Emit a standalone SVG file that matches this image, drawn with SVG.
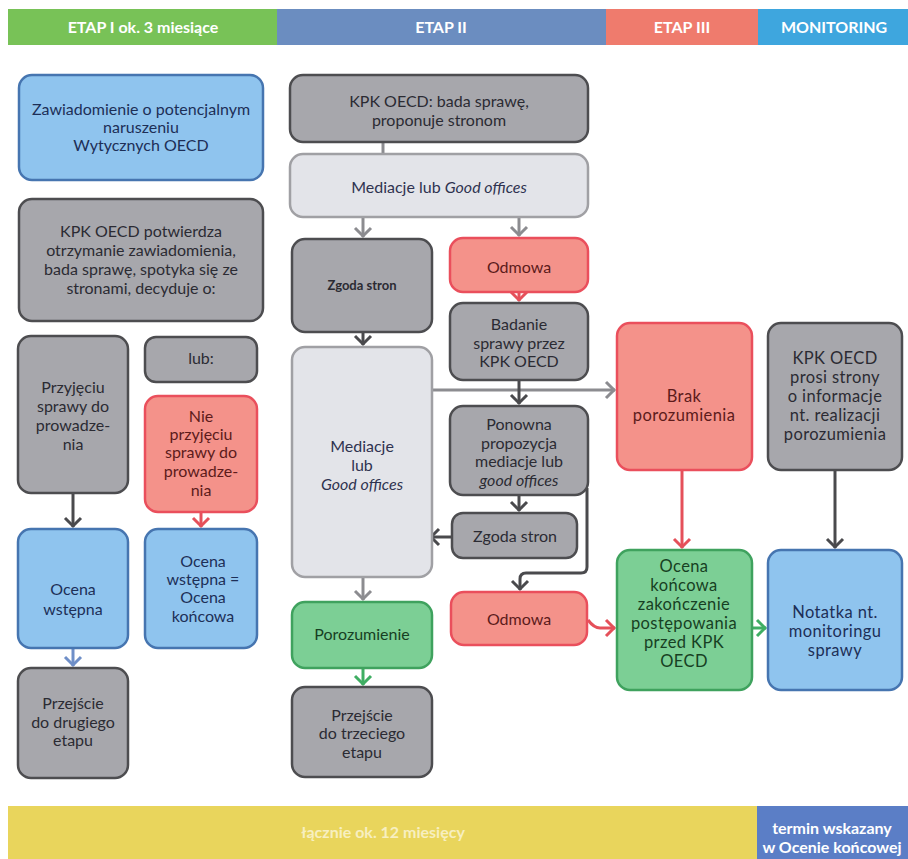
<svg xmlns="http://www.w3.org/2000/svg" width="908" height="859" viewBox="0 0 908 859">
<style>
text{font-family:Lato,"Open Sans","Liberation Sans",sans-serif;text-anchor:middle;}
.hd{fill:#ffffff;font-weight:bold;font-size:16px;}
.ft{font-weight:bold;font-size:16px;}
.box{stroke-width:2.5;}
.g{fill:#a7a7ac;stroke:#4d4d50;}
.l{fill:#e3e4e9;stroke:#a0a0a4;}
.r{fill:#f4928a;stroke:#ea4f5c;}
.b{fill:#8fc4ee;stroke:#4675b0;}
.gr{fill:#7ccf95;stroke:#3fa25e;}
.t{font-size:16px;}
.tg{fill:#2b2b33;}
.tb{fill:#1d2f57;}
.tr{fill:#5c1b1b;}
.tgr{fill:#173f23;}
.tl{fill:#2f3350;}
.big{font-size:16.5px;letter-spacing:0.4px;}
.c{fill:none;stroke-width:3;}
.cd{stroke:#4a4a4d;}
.cm{stroke:#8c8c90;}
.cr{stroke:#e5505a;}
.cb{stroke:#6f8fc8;}
.cg{stroke:#3fae63;}
</style>
<defs>
<marker id="ad" markerUnits="userSpaceOnUse" markerWidth="20" markerHeight="20" viewBox="0 0 20 20" refX="11" refY="10" orient="auto"><path d="M2,2 L10,10 L2,18" fill="none" stroke="#4a4a4d" stroke-width="3"/></marker>
<marker id="am" markerUnits="userSpaceOnUse" markerWidth="20" markerHeight="20" viewBox="0 0 20 20" refX="11" refY="10" orient="auto"><path d="M2,2 L10,10 L2,18" fill="none" stroke="#8c8c90" stroke-width="3"/></marker>
<marker id="ar" markerUnits="userSpaceOnUse" markerWidth="20" markerHeight="20" viewBox="0 0 20 20" refX="11" refY="10" orient="auto"><path d="M2,2 L10,10 L2,18" fill="none" stroke="#e5505a" stroke-width="3"/></marker>
<marker id="ab" markerUnits="userSpaceOnUse" markerWidth="20" markerHeight="20" viewBox="0 0 20 20" refX="11" refY="10" orient="auto"><path d="M2,2 L10,10 L2,18" fill="none" stroke="#6f8fc8" stroke-width="3"/></marker>
<marker id="ag" markerUnits="userSpaceOnUse" markerWidth="20" markerHeight="20" viewBox="0 0 20 20" refX="11" refY="10" orient="auto"><path d="M2,2 L10,10 L2,18" fill="none" stroke="#3fae63" stroke-width="3"/></marker>
</defs>
<rect width="908" height="859" fill="#ffffff"/>

<g id="header">
<rect x="8" y="9" width="269" height="36" fill="#78c257"/>
<rect x="277" y="9" width="329" height="36" fill="#6b8dc0"/>
<rect x="606" y="9" width="152" height="36" fill="#ef7b6d"/>
<rect x="758" y="9" width="150" height="36" fill="#3ea6de"/>
<text class="hd" x="143" y="33">ETAP I ok. 3 miesiące</text>
<text class="hd" x="441" y="33">ETAP II</text>
<text class="hd" x="682" y="33">ETAP III</text>
<text class="hd" x="834" y="33">MONITORING</text>
</g>

<g id="connectors">
<path class="c cd" d="M73,494 V527" marker-end="url(#ad)"/>
<path class="c cr" d="M201,513 V527" marker-end="url(#ar)"/>
<path class="c cb" d="M73,649 V666" marker-end="url(#ab)"/>
<path class="c cm" d="M383,143 V154"/>
<path class="c cm" d="M363,218 V237" marker-end="url(#am)"/>
<path class="c cm" d="M519,218 V236" marker-end="url(#am)"/>
<path class="c cr" d="M519,293 V301" marker-end="url(#ar)"/>
<path class="c cd" d="M363,333 V345" marker-end="url(#ad)"/>
<path class="c cm" d="M433,390 H615" marker-end="url(#am)"/>
<path class="c cd" d="M519,381 V404" marker-end="url(#ad)"/>
<path class="c cd" d="M519,496 V511" marker-end="url(#ad)"/>
<path class="c cd" d="M451,537 H430" marker-end="url(#ad)"/>
<path class="c cd" d="M587,488 V567 Q587,573 581,573 H526 Q520,573 520,579 V590" marker-end="url(#ad)"/>
<path class="c cm" d="M363,578 V600" marker-end="url(#am)"/>
<path class="c cg" d="M363,669 V685" marker-end="url(#ag)"/>
<path class="c cr" d="M588,620 Q594,628 600,628 H615" marker-end="url(#ar)"/>
<path class="c cr" d="M682,471 V548" marker-end="url(#ar)"/>
<path class="c cd" d="M835,471 V548" marker-end="url(#ad)"/>
<path class="c cg" d="M753,628 H766" marker-end="url(#ag)"/>
</g>

<g id="n-zawiadomienie">
<rect class="box b" x="19" y="75" width="244" height="105" rx="13"/>
<text class="t tb" x="141"><tspan x="141" y="115">Zawiadomienie o potencjalnym</tspan><tspan x="141" y="133">naruszeniu</tspan><tspan x="141" y="151">Wytycznych OECD</tspan></text>
</g>
<g id="n-kpk-potwierdza">
<rect class="box g" x="19" y="199" width="244" height="122" rx="13"/>
<text class="t tg"><tspan x="141" y="237">KPK OECD potwierdza</tspan><tspan x="141" y="256">otrzymanie zawiadomienia,</tspan><tspan x="141" y="275">bada sprawę, spotyka się ze</tspan><tspan x="141" y="294">stronami, decyduje o:</tspan></text>
</g>
<g id="n-przyjeciu">
<rect class="box g" x="18" y="336" width="110" height="157" rx="13"/>
<text class="t tg"><tspan x="73" y="393">Przyjęciu</tspan><tspan x="73" y="412">sprawy do</tspan><tspan x="73" y="431">prowadze-</tspan><tspan x="73" y="450">nia</tspan></text>
</g>
<g id="n-lub">
<rect class="box g" x="145" y="337" width="112" height="45" rx="11"/>
<text class="t tg" x="201" y="364">lub:</text>
</g>
<g id="n-nie-przyjeciu">
<rect class="box r" x="145" y="396" width="112" height="116" rx="13"/>
<text class="t tr"><tspan x="201" y="422">Nie</tspan><tspan x="201" y="440">przyjęciu</tspan><tspan x="201" y="458">sprawy do</tspan><tspan x="201" y="477">prowadze-</tspan><tspan x="201" y="496">nia</tspan></text>
</g>
<g id="n-ocena-wstepna">
<rect class="box b" x="18" y="529" width="110" height="119" rx="13"/>
<text class="t tb"><tspan x="73" y="595">Ocena</tspan><tspan x="73" y="615">wstępna</tspan></text>
</g>
<g id="n-ocena-wstepna-koncowa">
<rect class="box b" x="145" y="529" width="112" height="119" rx="13"/>
<text class="t tb"><tspan x="203" y="567">Ocena</tspan><tspan x="203" y="585">wstępna =</tspan><tspan x="203" y="603">Ocena</tspan><tspan x="203" y="622">końcowa</tspan></text>
</g>
<g id="n-przejscie-2">
<rect class="box g" x="18" y="668" width="110" height="110" rx="13"/>
<text class="t tg"><tspan x="73" y="709">Przejście</tspan><tspan x="73" y="728">do drugiego</tspan><tspan x="73" y="746">etapu</tspan></text>
</g>

<g id="n-kpk-bada">
<rect class="box g" x="290" y="75" width="298" height="67" rx="13"/>
<text class="t tg"><tspan x="439" y="107">KPK OECD: bada sprawę,</tspan><tspan x="439" y="126">proponuje stronom</tspan></text>
</g>
<g id="n-mediacje-1">
<rect class="box l" x="290" y="154" width="298" height="63" rx="13"/>
<text class="t tl" x="439" y="193">Mediacje lub <tspan font-style="italic">Good offices</tspan></text>
</g>
<g id="n-zgoda-1">
<rect class="box g" x="292" y="239" width="140" height="93" rx="13"/>
<text class="tg" x="362" y="290" font-size="13" font-weight="bold">Zgoda stron</text>
</g>
<g id="n-odmowa-1">
<rect class="box r" x="450" y="238" width="138" height="54" rx="13"/>
<text class="t tr" x="519" y="273">Odmowa</text>
</g>
<g id="n-badanie">
<rect class="box g" x="450" y="303" width="138" height="77" rx="13"/>
<text class="t tg"><tspan x="519" y="330">Badanie</tspan><tspan x="519" y="349">sprawy przez</tspan><tspan x="519" y="367">KPK OECD</tspan></text>
</g>
<g id="n-mediacje-2">
<rect class="box l" x="292" y="347" width="140" height="230" rx="13"/>
<text class="t tl"><tspan x="362" y="452">Mediacje</tspan><tspan x="362" y="471">lub</tspan><tspan x="362" y="490" font-style="italic">Good offices</tspan></text>
</g>
<g id="n-ponowna">
<rect class="box g" x="450" y="406" width="138" height="89" rx="13"/>
<text class="t tg"><tspan x="519" y="430">Ponowna</tspan><tspan x="519" y="449">propozycja</tspan><tspan x="519" y="467">mediacje lub</tspan><tspan x="519" y="486" font-style="italic">good offices</tspan></text>
</g>
<g id="n-zgoda-2">
<rect class="box g" x="452" y="513" width="125" height="45" rx="11"/>
<text class="t tg" x="515" y="542">Zgoda stron</text>
</g>
<g id="n-odmowa-2">
<rect class="box r" x="451" y="592" width="136" height="53" rx="13"/>
<text class="t tr" x="519" y="625">Odmowa</text>
</g>
<g id="n-porozumienie">
<rect class="box gr" x="292" y="602" width="140" height="66" rx="13"/>
<text class="t tgr" x="362" y="640">Porozumienie</text>
</g>
<g id="n-przejscie-3">
<rect class="box g" x="292" y="687" width="140" height="90" rx="13"/>
<text class="t tg"><tspan x="362" y="721">Przejście</tspan><tspan x="362" y="739">do trzeciego</tspan><tspan x="362" y="758">etapu</tspan></text>
</g>

<g id="n-brak">
<rect class="box r" x="617" y="323" width="135" height="147" rx="13"/>
<text class="t big tr"><tspan x="684" y="402">Brak</tspan><tspan x="684" y="421">porozumienia</tspan></text>
</g>
<g id="n-kpk-prosi">
<rect class="box g" x="768" y="323" width="134" height="147" rx="13"/>
<text class="t big tg"><tspan x="835" y="364">KPK OECD</tspan><tspan x="835" y="383">prosi strony</tspan><tspan x="835" y="402">o informacje</tspan><tspan x="835" y="421">nt. realizacji</tspan><tspan x="835" y="440">porozumienia</tspan></text>
</g>
<g id="n-ocena-koncowa">
<rect class="box gr" x="617" y="550" width="135" height="140" rx="13"/>
<text class="t big tgr"><tspan x="684" y="572">Ocena</tspan><tspan x="684" y="591">końcowa</tspan><tspan x="684" y="610">zakończenie</tspan><tspan x="684" y="629">postępowania</tspan><tspan x="684" y="648">przed KPK</tspan><tspan x="684" y="667">OECD</tspan></text>
</g>
<g id="n-notatka">
<rect class="box b" x="768" y="550" width="134" height="140" rx="13"/>
<text class="t big tb"><tspan x="835" y="618">Notatka nt.</tspan><tspan x="835" y="637">monitoringu</tspan><tspan x="835" y="656">sprawy</tspan></text>
</g>

<g id="footer">
<rect x="8" y="806" width="749" height="53" fill="#e9d55c"/>
<rect x="757" y="806" width="151" height="53" fill="#5b7ec6"/>
<text class="ft" x="383" y="838" fill="#f7efc0">łącznie ok. 12 miesięcy</text>
<text class="ft" fill="#ffffff"><tspan x="832" y="834">termin wskazany</tspan><tspan x="832" y="853">w Ocenie końcowej</tspan></text>
</g>
</svg>
